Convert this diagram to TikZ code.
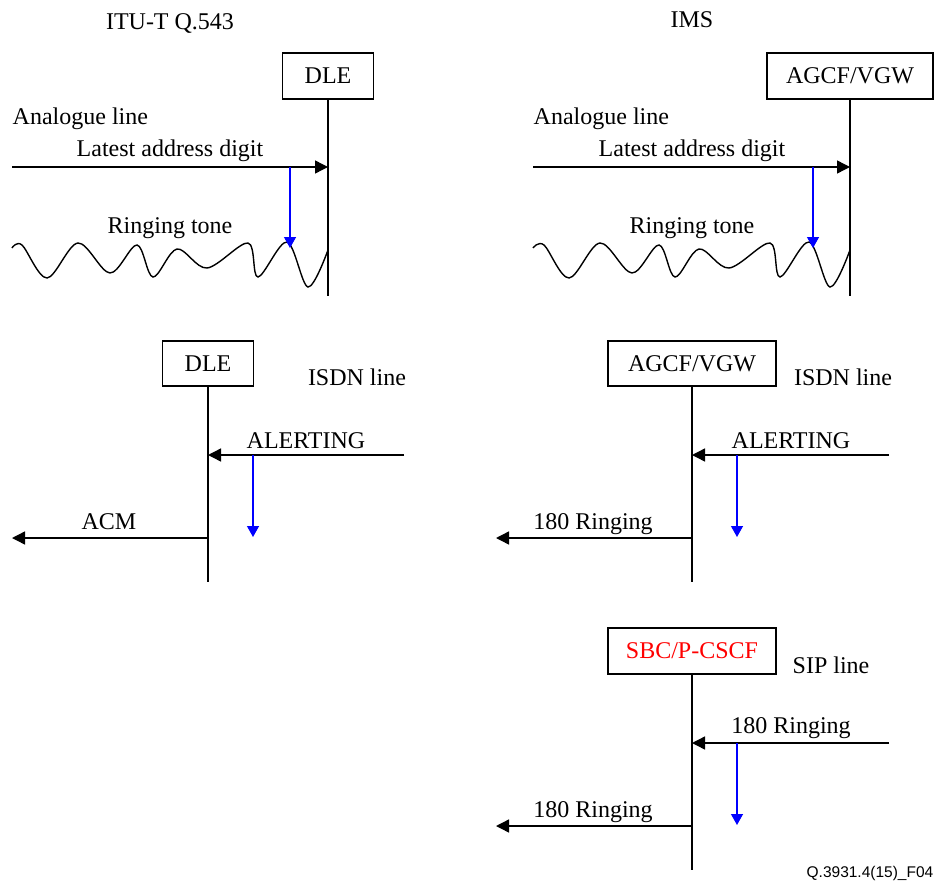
\documentclass[tikz,border=0pt]{standalone}
\usepackage{fontspec}
\setmainfont{Liberation Serif}
\newfontfamily\footfont{Liberation Sans}
\usetikzlibrary{arrows.meta}
\begin{document}
\begin{tikzpicture}[x=1pt,y=-1pt, line width=1.4pt,
  every node/.style={font=\fontsize{24}{28}\selectfont, inner sep=0pt},
  entity/.style={draw, line width=1.2pt, minimum height=46pt, anchor=center},
  msg/.style={-{Triangle[length=13pt,width=13pt]}},
  ind/.style={blue, line width=1.3pt, -{Triangle[length=11pt,width=12pt]}},
  lbl/.style={anchor=base},
  lblw/.style={anchor=base west}]
\useasboundingbox (0,0) rectangle (937,888);

% ---------- top left: ITU-T Q.543 ----------
\node[lbl] (t1) at (170,30) {ITU-T Q.543};
\node[entity, minimum width=91pt] (dle1) at (328,76) {DLE};
\coordinate (dle1e) at (328,296);
\draw (dle1) -- (dle1e);
\node[lblw] (al1) at (12,125) {Analogue line};
\coordinate (a1s) at (12,167);
\coordinate (a1e) at (328,167);
\draw[msg] (a1s) -- (a1e);
\node[lbl] (lad1) at (170,157) {Latest address digit};
\node[lbl] (rt1) at (170,233) {Ringing tone};
\draw plot[smooth, tension=0.55] coordinates {(12,248) (22,245) (47,278) (78,243) (110,273) (137,245) (153,277) (177,249) (207,268) (248,243) (258,277) (287,242) (308,287) (328,250)};
\coordinate (b1s) at (290,167);
\coordinate (b1e) at (290,248);
\draw[ind] (b1s) -- (b1e);

% ---------- top right: IMS ----------
\node[lbl] (t2) at (692,28) {IMS};
\node[entity, minimum width=166pt] (agcf1) at (850,76) {AGCF/VGW};
\coordinate (agcf1e) at (850,296);
\draw (agcf1) -- (agcf1e);
\node[lblw] (al2) at (533,125) {Analogue line};
\coordinate (a2s) at (533,167);
\coordinate (a2e) at (850,167);
\draw[msg] (a2s) -- (a2e);
\node[lbl] (lad2) at (692,157) {Latest address digit};
\node[lbl] (rt2) at (692,233) {Ringing tone};
\begin{scope}[xshift=522pt]
\draw plot[smooth, tension=0.55] coordinates {(11,248) (22,245) (47,278) (78,243) (110,273) (137,245) (153,277) (177,249) (207,268) (248,243) (258,277) (287,242) (308,287) (328,250)};
\end{scope}
\coordinate (b2s) at (813,167);
\coordinate (b2e) at (813,248);
\draw[ind] (b2s) -- (b2e);

% ---------- middle left: DLE / ISDN ----------
\node[entity, minimum width=91pt, minimum height=45pt] (dle2) at (208,363.5) {DLE};
\coordinate (dle2e) at (208,582);
\draw (dle2) -- (dle2e);
\node[lbl] (isdn1) at (357,385) {ISDN line};
\coordinate (c1s) at (404,455);
\coordinate (c1e) at (208,455);
\draw[msg] (c1s) -- (c1e);
\node[lbl] (alert1) at (306,448) {ALERTING};
\coordinate (b3s) at (253,455);
\coordinate (b3e) at (253,537);
\draw[ind] (b3s) -- (b3e);
\coordinate (d1s) at (208,538);
\coordinate (d1e) at (12,538);
\draw[msg] (d1s) -- (d1e);
\node[lbl] (acm) at (109,529) {ACM};

% ---------- middle right: AGCF/VGW / ISDN ----------
\node[entity, minimum width=168pt, minimum height=45pt] (agcf2) at (692,363.5) {AGCF/VGW};
\coordinate (agcf2e) at (692,582);
\draw (agcf2) -- (agcf2e);
\node[lbl] (isdn2) at (843,385) {ISDN line};
\coordinate (c2s) at (889,455);
\coordinate (c2e) at (692,455);
\draw[msg] (c2s) -- (c2e);
\node[lbl] (alert2) at (791,448) {ALERTING};
\coordinate (b4s) at (737,455);
\coordinate (b4e) at (737,537);
\draw[ind] (b4s) -- (b4e);
\coordinate (d2s) at (692,538);
\coordinate (d2e) at (496,538);
\draw[msg] (d2s) -- (d2e);
\node[lbl] (r1) at (593,529) {180 Ringing};

% ---------- bottom: SBC/P-CSCF / SIP ----------
\node[entity, minimum width=168pt, text=red] (sbc) at (692,651) {SBC/P-CSCF};
\coordinate (sbce) at (692,870);
\draw (sbc) -- (sbce);
\node[lbl] (sip) at (831,673) {SIP line};
\coordinate (c3s) at (889,743);
\coordinate (c3e) at (692,743);
\draw[msg] (c3s) -- (c3e);
\node[lbl] (r2) at (791,733) {180 Ringing};
\coordinate (b5s) at (737,743);
\coordinate (b5e) at (737,825);
\draw[ind] (b5s) -- (b5e);
\coordinate (d3s) at (692,826);
\coordinate (d3e) at (496,826);
\draw[msg] (d3s) -- (d3e);
\node[lbl] (r3) at (593,817) {180 Ringing};

% ---------- footer ----------
\node[anchor=base east, font=\footfont\fontsize{15.5}{18}\selectfont] (foot) at (934,877) {Q.3931.4(15)\_F04};
\end{tikzpicture}
\end{document}
